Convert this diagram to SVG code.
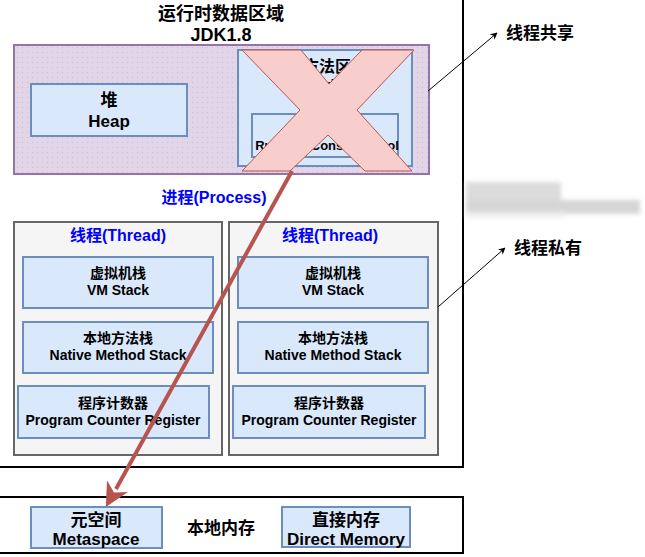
<svg xmlns="http://www.w3.org/2000/svg" width="645" height="557" viewBox="0 0 645 557">
<defs>
<style>
text{font-family:"Liberation Sans","Noto Sans CJK SC",sans-serif;font-weight:bold;text-anchor:middle;fill:#000}
.frame{fill:#fff;stroke:#000;stroke-width:2}
.blue{fill:#dae8fc;stroke:#6c8ebf;stroke-width:2}
.gray{fill:#f5f5f5;stroke:#666;stroke-width:2}
.t14{font-size:14px}
.t16{font-size:16px}
.t17{font-size:17px}
.t18{font-size:18px}
.b{fill:#0000ff}
.thin{stroke:#000;stroke-width:1;fill:none}
</style>
<marker id="ah" viewBox="0 0 10 10" refX="9" refY="5" markerWidth="7" markerHeight="7" orient="auto" markerUnits="userSpaceOnUse">
<path d="M0,0 L10,5 L0,10 L3,5 Z" fill="#000"/>
</marker>
<marker id="redh" viewBox="0 0 10 10" refX="9" refY="5" markerWidth="24" markerHeight="24" orient="auto" markerUnits="userSpaceOnUse">
<path d="M0,0 L10,5 L0,10 L3,5 Z" fill="#b85450"/>
</marker>
<pattern id="dots" width="5" height="5" patternUnits="userSpaceOnUse">
<rect width="5" height="5" fill="#e1d5e7"/>
<circle cx="2.5" cy="2.5" r="0.6" fill="#cdb8d6"/>
</pattern>
<filter id="blur" x="-20%" y="-50%" width="140%" height="200%"><feGaussianBlur stdDeviation="2"/></filter>
</defs>

<g id="runtime-area">
<rect class="frame" x="-5" y="-3" width="468" height="470"/>
<text class="t18" x="221" y="20">运行时数据区域</text>
<text class="t18" x="221" y="41">JDK1.8</text>
</g>

<g id="shared">
<rect x="14" y="45" width="415" height="129" fill="url(#dots)" stroke="#9673a6" stroke-width="2"/>
</g>

<g id="heap">
<rect class="blue" x="31" y="84" width="156" height="52"/>
<text class="t17" x="109" y="106">堆</text>
<text class="t17" x="109" y="127">Heap</text>
</g>

<g id="method-area">
<rect class="blue" x="238" y="50" width="174" height="116"/>
<text class="t16" x="327" y="72">方法区</text>
<text class="t14" x="327" y="90">Method Area</text>
<rect class="blue" x="252" y="114" width="146" height="43"/>
<text x="327" y="150" style="font-size:13px">Runtime Constant Pool</text>
</g>

<g id="cross">
<polygon points="242,50 301,50 329,84 362,50 414,50 357,110 412,171 365,171 328,135 290,171 242,171 300,110" fill="#f8cecc" stroke="#b85450" stroke-width="1"/>
</g>

<g id="process-label">
<text class="t16 b" x="214" y="203">进程(Process)</text>
</g>

<g id="thread1">
<rect class="gray" x="14" y="222" width="208" height="233"/>
<text class="t16 b" x="118" y="241">线程(Thread)</text>
<rect class="blue" x="23" y="257" width="190" height="51"/>
<text class="t14" x="118" y="278">虚拟机栈</text>
<text class="t14" x="118" y="295">VM Stack</text>
<rect class="blue" x="23" y="322" width="190" height="51"/>
<text class="t14" x="118" y="343">本地方法栈</text>
<text class="t14" x="118" y="360">Native Method Stack</text>
<rect class="blue" x="18" y="386" width="191" height="52"/>
<text class="t14" x="113" y="408">程序计数器</text>
<text class="t14" x="113" y="425">Program Counter Register</text>
</g>

<g id="thread2">
<rect class="gray" x="229" y="222" width="209" height="233"/>
<text class="t16 b" x="330" y="241">线程(Thread)</text>
<rect class="blue" x="238" y="257" width="190" height="51"/>
<text class="t14" x="333" y="278">虚拟机栈</text>
<text class="t14" x="333" y="295">VM Stack</text>
<rect class="blue" x="238" y="322" width="190" height="51"/>
<text class="t14" x="333" y="343">本地方法栈</text>
<text class="t14" x="333" y="360">Native Method Stack</text>
<rect class="blue" x="233" y="386" width="192" height="52"/>
<text class="t14" x="329" y="408">程序计数器</text>
<text class="t14" x="329" y="425">Program Counter Register</text>
</g>

<g id="native-memory">
<rect class="frame" x="-5" y="497" width="468" height="56"/>
<text class="t17" x="221" y="534">本地内存</text>
</g>

<g id="metaspace">
<rect class="blue" x="31" y="507" width="131" height="41"/>
<text class="t17" x="96" y="526">元空间</text>
<text class="t17" x="96" y="545">Metaspace</text>
</g>

<g id="direct-memory">
<rect class="blue" x="282" y="507" width="128" height="40"/>
<text class="t17" x="346" y="526">直接内存</text>
<text class="t17" x="346" y="545">Direct Memory</text>
</g>

<g id="labels">
<text class="t17" x="540" y="39">线程共享</text>
<text class="t17" x="548" y="254">线程私有</text>
</g>

<g id="smudge" filter="url(#blur)" opacity="0.85">
<rect x="466" y="182" width="95" height="20" fill="#d6d6d6"/>
<rect x="466" y="200" width="174" height="14" fill="#cfcfcf"/>
<rect x="466" y="212" width="100" height="6" fill="#ececec"/>
</g>

<g id="connectors">
<line class="thin" x1="428" y1="91" x2="497" y2="33" marker-end="url(#ah)"/>
<line class="thin" x1="438" y1="307" x2="505" y2="248" marker-end="url(#ah)"/>
<line x1="292" y1="171" x2="116" y2="489" stroke="#b85450" stroke-width="4"/>
<line x1="292" y1="171" x2="107" y2="505" stroke="none" marker-end="url(#redh)"/>
</g>
</svg>
